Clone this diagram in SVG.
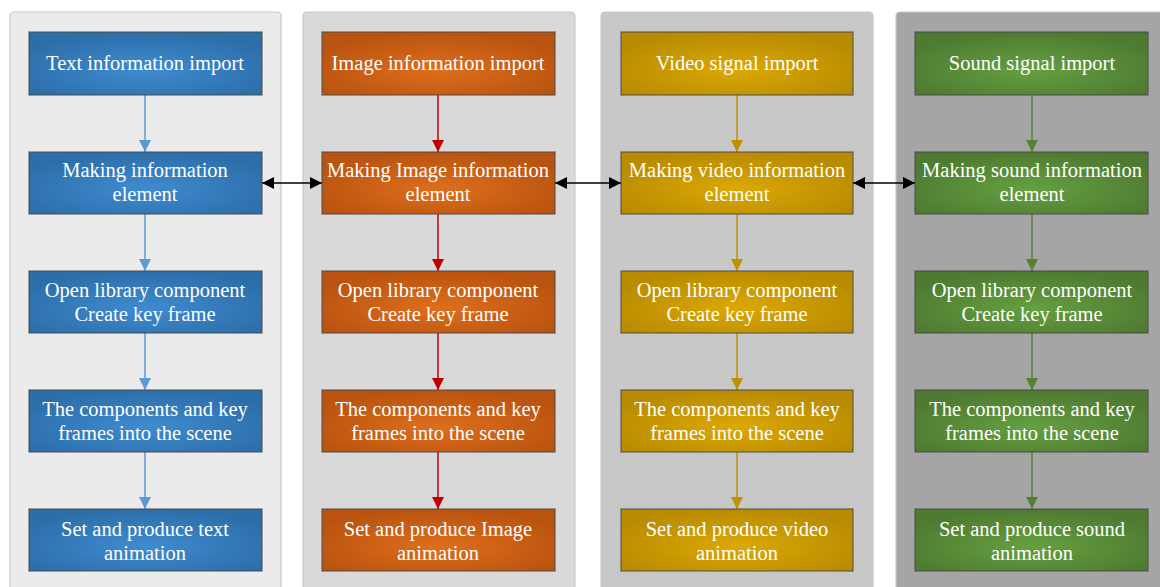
<svg xmlns="http://www.w3.org/2000/svg" width="1160" height="587" viewBox="0 0 1160 587">
<defs>
<radialGradient id="gB" cx="50%" cy="60%" r="60%"><stop offset="0" stop-color="#3f8bd0"/><stop offset="1" stop-color="#2c6ea9"/></radialGradient>
<radialGradient id="gO" cx="50%" cy="60%" r="60%"><stop offset="0" stop-color="#de6e1c"/><stop offset="1" stop-color="#b9530f"/></radialGradient>
<radialGradient id="gY" cx="50%" cy="60%" r="60%"><stop offset="0" stop-color="#dca805"/><stop offset="1" stop-color="#b88b00"/></radialGradient>
<radialGradient id="gG" cx="50%" cy="60%" r="60%"><stop offset="0" stop-color="#65a040"/><stop offset="1" stop-color="#4e7a31"/></radialGradient>
<marker id="aB" viewBox="0 0 10 10" refX="10" refY="5" markerWidth="12" markerHeight="12" markerUnits="userSpaceOnUse" orient="auto"><path d="M0,0L10,5L0,10z" fill="#5b9bd5"/></marker>
<marker id="aR" viewBox="0 0 10 10" refX="10" refY="5" markerWidth="12" markerHeight="12" markerUnits="userSpaceOnUse" orient="auto"><path d="M0,0L10,5L0,10z" fill="#c00000"/></marker>
<marker id="aY" viewBox="0 0 10 10" refX="10" refY="5" markerWidth="12" markerHeight="12" markerUnits="userSpaceOnUse" orient="auto"><path d="M0,0L10,5L0,10z" fill="#bf9000"/></marker>
<marker id="aG" viewBox="0 0 10 10" refX="10" refY="5" markerWidth="12" markerHeight="12" markerUnits="userSpaceOnUse" orient="auto"><path d="M0,0L10,5L0,10z" fill="#548235"/></marker>
<marker id="aK" viewBox="0 0 10 10" refX="10" refY="5" markerWidth="12" markerHeight="12" markerUnits="userSpaceOnUse" orient="auto-start-reverse"><path d="M0,0L10,5L0,10z" fill="#000"/></marker>
</defs>
<style>
.panel{stroke:#c9c9c9;stroke-width:1.2}
.node rect{stroke:#4a4a4a;stroke-width:1.3;stroke-opacity:0.75}
.node text{font-family:"Liberation Serif","Times New Roman","DejaVu Serif",serif;font-size:20.5px;fill:#fff;text-anchor:middle}
.e{fill:none;stroke-width:1.5}
.b{stroke:#5b9bd5;marker-end:url(#aB)}
.r{stroke:#c00000;marker-end:url(#aR)}
.y{stroke:#bf9000;marker-end:url(#aY)}
.g{stroke:#548235;marker-end:url(#aG)}
.k{stroke:#000;marker-start:url(#aK);marker-end:url(#aK)}
</style>
<rect width="1160" height="587" fill="#fff"/>
<g id="panels">
<rect class="panel" x="10" y="12" width="271" height="590" rx="4" fill="#ebebeb"/>
<rect class="panel" x="303" y="12" width="272" height="590" rx="4" fill="#d9d9d9"/>
<rect class="panel" x="601" y="12" width="272" height="590" rx="4" fill="#c8c8c8"/>
<rect class="panel" x="896" y="12" width="280" height="590" rx="4" fill="#a5a5a5"/>
</g>
<g id="connectors">
<path class="e b" d="M145,95V152"/><path class="e b" d="M145,214V271"/><path class="e b" d="M145,333V390"/><path class="e b" d="M145,452V509"/>
<path class="e r" d="M438,95V152"/><path class="e r" d="M438,214V271"/><path class="e r" d="M438,333V390"/><path class="e r" d="M438,452V509"/>
<path class="e y" d="M737,95V152"/><path class="e y" d="M737,214V271"/><path class="e y" d="M737,333V390"/><path class="e y" d="M737,452V509"/>
<path class="e g" d="M1032,95V152"/><path class="e g" d="M1032,214V271"/><path class="e g" d="M1032,333V390"/><path class="e g" d="M1032,452V509"/>
<path class="e k" d="M262,183H322"/><path class="e k" d="M555,183H621"/><path class="e k" d="M853,183H915"/>
</g>
<g id="n1a" class="node"><rect x="29" y="32" width="233" height="63" fill="url(#gB)"/><text x="145" y="70">Text information import</text></g>
<g id="n1b" class="node"><rect x="29" y="152" width="233" height="62" fill="url(#gB)"/><text x="145" y="177">Making information</text><text x="145" y="201">element</text></g>
<g id="n1c" class="node"><rect x="29" y="271" width="233" height="62" fill="url(#gB)"/><text x="145" y="297">Open library component</text><text x="145" y="321">Create key frame</text></g>
<g id="n1d" class="node"><rect x="29" y="390" width="233" height="62" fill="url(#gB)"/><text x="145" y="416">The components and key</text><text x="145" y="440">frames into the scene</text></g>
<g id="n1e" class="node"><rect x="29" y="509" width="233" height="62" fill="url(#gB)"/><text x="145" y="536">Set and produce text</text><text x="145" y="560">animation</text></g>

<g id="n2a" class="node"><rect x="322" y="32" width="233" height="63" fill="url(#gO)"/><text x="438" y="70">Image information import</text></g>
<g id="n2b" class="node"><rect x="322" y="152" width="233" height="62" fill="url(#gO)"/><text x="438" y="177">Making Image information</text><text x="438" y="201">element</text></g>
<g id="n2c" class="node"><rect x="322" y="271" width="233" height="62" fill="url(#gO)"/><text x="438" y="297">Open library component</text><text x="438" y="321">Create key frame</text></g>
<g id="n2d" class="node"><rect x="322" y="390" width="233" height="62" fill="url(#gO)"/><text x="438" y="416">The components and key</text><text x="438" y="440">frames into the scene</text></g>
<g id="n2e" class="node"><rect x="322" y="509" width="233" height="62" fill="url(#gO)"/><text x="438" y="536">Set and produce Image</text><text x="438" y="560">animation</text></g>

<g id="n3a" class="node"><rect x="621" y="32" width="232" height="63" fill="url(#gY)"/><text x="737" y="70">Video signal import</text></g>
<g id="n3b" class="node"><rect x="621" y="152" width="232" height="62" fill="url(#gY)"/><text x="737" y="177">Making video information</text><text x="737" y="201">element</text></g>
<g id="n3c" class="node"><rect x="621" y="271" width="232" height="62" fill="url(#gY)"/><text x="737" y="297">Open library component</text><text x="737" y="321">Create key frame</text></g>
<g id="n3d" class="node"><rect x="621" y="390" width="232" height="62" fill="url(#gY)"/><text x="737" y="416">The components and key</text><text x="737" y="440">frames into the scene</text></g>
<g id="n3e" class="node"><rect x="621" y="509" width="232" height="62" fill="url(#gY)"/><text x="737" y="536">Set and produce video</text><text x="737" y="560">animation</text></g>

<g id="n4a" class="node"><rect x="915" y="32" width="233" height="63" fill="url(#gG)"/><text x="1032" y="70">Sound signal import</text></g>
<g id="n4b" class="node"><rect x="915" y="152" width="233" height="62" fill="url(#gG)"/><text x="1032" y="177">Making sound information</text><text x="1032" y="201">element</text></g>
<g id="n4c" class="node"><rect x="915" y="271" width="233" height="62" fill="url(#gG)"/><text x="1032" y="297">Open library component</text><text x="1032" y="321">Create key frame</text></g>
<g id="n4d" class="node"><rect x="915" y="390" width="233" height="62" fill="url(#gG)"/><text x="1032" y="416">The components and key</text><text x="1032" y="440">frames into the scene</text></g>
<g id="n4e" class="node"><rect x="915" y="509" width="233" height="62" fill="url(#gG)"/><text x="1032" y="536">Set and produce sound</text><text x="1032" y="560">animation</text></g>
</svg>
